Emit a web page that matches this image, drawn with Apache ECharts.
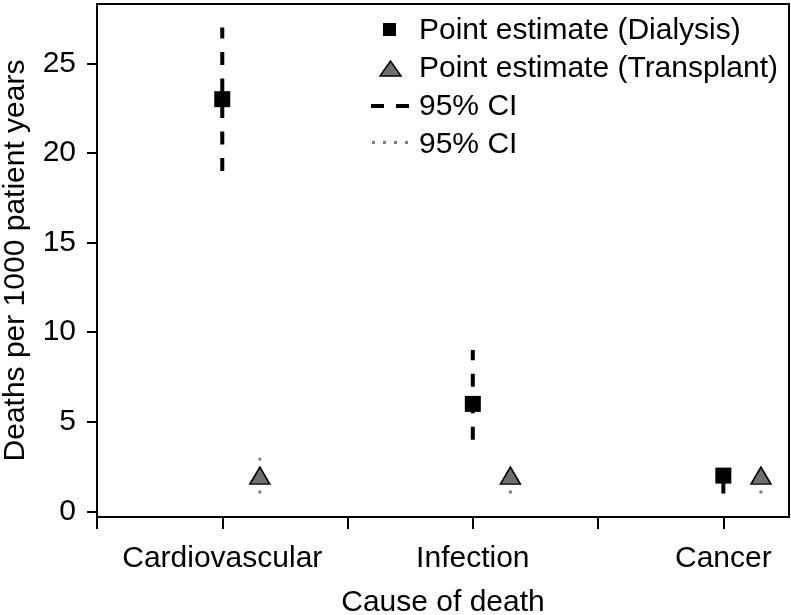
<!DOCTYPE html>
<html>
<head>
<meta charset="utf-8">
<script src="https://cdn.jsdelivr.net/npm/echarts@6/dist/echarts.min.js"></script>
<style>
  html, body { margin: 0; padding: 0; background: #fff; }
  #chart { width: 791px; height: 615px; }
</style>
</head>
<body>
<div id="chart"></div>
<script>
// ---- data ----
const categories = ['Cardiovascular', 'Infection', 'Cancer'];
const categoryPos = [1, 2, 3];
const transplantOffset = 0.15;
const dialysisEst = [23, 6, 2];
const dialysisLow = [19, 4, 1];
const dialysisHigh = [27, 9, 2.4];
const transplantEst = [2, 2, 2];
const transplantLow = [1, 1, 1];
const transplantHigh = [3, 2.4, 2.4];
const yTicks = [0, 5, 10, 15, 20, 25];
const xTicks = [0.5, 1, 1.5, 2, 2.5, 3];
const legendNames = ['Point estimate (Dialysis)', 'Point estimate (Transplant)', '95% CI', '95% CI'];
const xTitle = 'Cause of death';
const yTitle = 'Deaths per 1000 patient years';

// ---- build ----
const FONT = '"Liberation Sans", Arial, Helvetica, sans-serif';
const dialysisPts = categoryPos.map((x, i) => [x, dialysisEst[i]]);
const transplantPts = categoryPos.map((x, i) => [x + transplantOffset, transplantEst[i]]);
const dialysisCI = categoryPos.map((x, i) => [x, dialysisLow[i], dialysisHigh[i]]);
const transplantCI = categoryPos.map((x, i) => [x + transplantOffset, transplantLow[i], transplantHigh[i]]);

function ciRenderer(stroke, width, dash) {
  return function (params, api) {
    const p0 = api.coord([api.value(0), api.value(1)]);
    const p1 = api.coord([api.value(0), api.value(2)]);
    return {
      type: 'line',
      shape: { x1: p0[0], y1: p0[1], x2: p1[0], y2: p1[1] },
      style: { stroke: stroke, lineWidth: width, lineDash: dash, fill: null }
    };
  };
}

const chart = echarts.init(document.getElementById('chart'), null, { renderer: 'canvas' });

const legendRows = [31, 69, 107, 145];
const legendTextX = 419;

const option = {
  animation: false,
  backgroundColor: '#ffffff',
  textStyle: { fontFamily: FONT },
  grid: {
    left: 97, right: 2, top: 4, bottom: 98,
    containLabel: false,
    outerBoundsMode: 'none',
    show: true, borderColor: '#000', borderWidth: 2, backgroundColor: 'transparent'
  },
  xAxis: {
    type: 'value',
    min: 0.5, max: 3.262,
    splitLine: { show: false },
    axisLine: { show: true, onZero: false, lineStyle: { color: '#000', width: 2 } },
    axisTick: { show: true, length: 12, customValues: xTicks, lineStyle: { color: '#000', width: 2 } },
    axisLabel: {
      customValues: categoryPos,
      formatter: v => categories[Math.round(v) - 1] || '',
      color: '#000', fontSize: 30, fontFamily: FONT, margin: 27
    },
    name: xTitle,
    nameLocation: 'middle',
    nameGap: 71,
    nameTextStyle: { color: '#000', fontSize: 30, fontFamily: FONT }
  },
  yAxis: {
    type: 'value',
    min: -0.31, max: 28.31,
    splitLine: { show: false },
    axisLine: { show: true, onZero: false, lineStyle: { color: '#000', width: 2 } },
    axisTick: { show: true, length: 10, customValues: yTicks, lineStyle: { color: '#000', width: 2 } },
    axisLabel: {
      customValues: yTicks,
      color: '#000', fontSize: 30, fontFamily: FONT, margin: 21
    },
    name: yTitle,
    nameLocation: 'middle',
    nameGap: 66,
    nameTextStyle: { color: '#000', fontSize: 30, fontFamily: FONT }
  },
  series: [
    {
      name: legendNames[2],
      type: 'custom',
      z: 1,
      renderItem: ciRenderer('#000', 4, [13, 13.5]),
      encode: { x: 0, y: [1, 2] },
      data: dialysisCI
    },
    {
      name: legendNames[3],
      type: 'custom',
      z: 1,
      renderItem: ciRenderer('#7f7f7f', 3, [3, 8]),
      encode: { x: 0, y: [1, 2] },
      data: transplantCI
    },
    {
      name: legendNames[0],
      type: 'scatter',
      z: 3,
      symbol: 'rect',
      symbolSize: 16,
      itemStyle: { color: '#000', opacity: 1 },
      data: dialysisPts
    },
    {
      name: legendNames[1],
      type: 'scatter',
      z: 3,
      symbol: 'triangle',
      symbolSize: [20, 17],
      itemStyle: { color: '#6f6f6f', borderColor: '#000', borderWidth: 1.5, opacity: 1 },
      data: transplantPts
    }
  ],
  graphic: [
    { type: 'rect', shape: { x: 383, y: 23, width: 13, height: 13 }, style: { fill: '#000' } },
    { type: 'polygon', shape: { points: [[380, 76], [401, 76], [390.5, 61]] }, style: { fill: '#6f6f6f', stroke: '#000', lineWidth: 1.5 } },
    { type: 'line', shape: { x1: 371, y1: 106, x2: 409, y2: 106 }, style: { stroke: '#000', lineWidth: 4, lineDash: [13, 12] } },
    { type: 'line', shape: { x1: 372, y1: 142.5, x2: 408, y2: 142.5 }, style: { stroke: '#7f7f7f', lineWidth: 3, lineDash: [3, 8] } },
    ...legendNames.map((t, i) => ({
      type: 'text',
      x: legendTextX, y: legendRows[i],
      style: { text: t, fill: '#000', fontSize: 30, fontFamily: FONT, verticalAlign: 'middle', align: 'left' }
    }))
  ]
};

chart.setOption(option);
</script>
</body>
</html>
